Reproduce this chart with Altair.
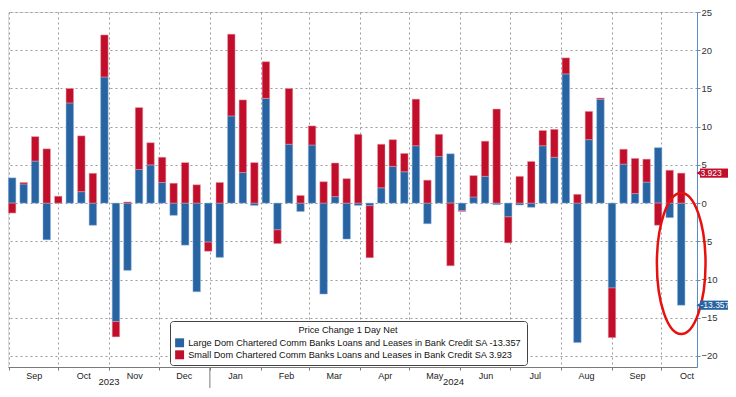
import altair as alt
import pandas as pd

FONT = "Liberation Sans, Arial, sans-serif"

# ---------------- data ----------------
start_date = "2023-09-03"
n_weeks = 59
large = [3.3, 2.5, 5.5, -4.8, 0.0, 13.1, 1.5, -2.9, 16.5, -15.5,
         -8.8, 4.4, 5.0, 2.7, -1.6, -5.5, -11.6, -5.1, -7.1, 11.4,
         4.0, -0.3, 13.7, -3.5, 7.7, -1.1, 7.6, -11.9, 0.85, -4.7,
         -0.3, -0.35, 2.0, 4.8, 4.1, 7.5, -2.7, 6.1, 6.45, -1.0,
         0.8, 3.5, -0.2, -1.8, -0.25, -0.55, 7.5, 6.0, 16.9, -18.25,
         8.3, 13.6, -11.1, 5.1, 1.25, 2.75, 7.25, -1.9, -13.357]
small = [-1.3, 0.2, 3.2, 7.1, 0.9, 1.9, 7.3, 3.9, 5.5, -2.0,
         0.15, 8.1, 2.9, 3.3, 2.6, 5.3, 2.4, -1.2, 2.7, 10.7,
         9.5, 5.3, 4.8, -1.8, 7.3, 1.0, 2.5, 2.8, 4.4, 3.2,
         9.0, -6.8, 5.7, 3.5, 2.4, 6.1, 3.0, 2.9, -8.2, -0.1,
         2.8, 4.6, 12.3, -3.4, 3.5, 5.45, 2.0, 3.65, 2.1, 1.15,
         3.7, 0.15, -6.5, 1.95, 4.6, 3.0, -2.9, 4.3, 3.923]
series_names = [
    "Large Dom Chartered Comm Banks Loans and Leases in Bank Credit SA -13.357",
    "Small Dom Chartered Comm Banks Loans and Leases in Bank Credit SA 3.923",
]
last_labels = ["-13.357", "3.923"]
series_colors = ["#2864a2", "#c10f2b"]
edge_colors = ["#8fb4de", "#eba3ad"]
legend_title = "Price Change 1 Day Net"
y_ticks = [-20, -15, -10, -5, 0, 5, 10, 15, 20, 25]
years = ["2023", "2024"]
year_edges = ["2023-08-31T12:00:00Z", "2024-01-01T00:00:00Z", "2024-10-22T14:00:00Z"]
highlight_value = -7.9  # centre of the red ring annotation

# ---------------- tables ----------------
dates = pd.date_range(start_date, periods=n_weeks, freq="7D").strftime("%Y-%m-%d").tolist()
rows = []
for i, d in enumerate(dates):
    rows.append({"date": d, "series": series_names[0], "value": large[i], "ord": 0})
    rows.append({"date": d, "series": series_names[1], "value": small[i], "ord": 1})
bars_df = pd.DataFrame(rows)

month_starts = pd.date_range("2023-09-01", "2024-10-01", freq="MS")
month_vals = [alt.DateTime(year=m.year, month=m.month, date=1, utc=True) for m in month_starts]

edges = pd.to_datetime(year_edges)
year_df = pd.DataFrame({
    "date": [(edges[i] + (edges[i + 1] - edges[i]) / 2).strftime("%Y-%m-%dT%H:%M:%SZ") for i in range(2)],
    "label": years,
})
sep_df = pd.DataFrame({"date": [year_edges[1]]})

W, H = 689, 355
PAD = {"left": 0, "top": 4, "right": 31, "bottom": 21}

x_scale = alt.Scale(
    type="utc", padding=0, nice=False,
    domain=[alt.DateTime(year=2023, month=8, date=31, hours=12, utc=True),
            alt.DateTime(year=2024, month=10, date=22, hours=14, utc=True)],
)
y_scale = alt.Scale(domain=[-21.44, 25], nice=False, zero=False, padding=0)

GRID_DASH = [2, 3]

bars = alt.Chart(bars_df).mark_bar(size=7.5, strokeWidth=0.7, strokeOpacity=0.7).encode(
    x=alt.X("date:T", scale=x_scale, title=None,
            axis=alt.Axis(values=month_vals, tickCount=len(month_vals) + 2,
                          labelExpr="utcFormat(datum.value, '%b')",
                          labelOffset=25, grid=True, gridDash=GRID_DASH, gridColor="#9a9a9a",
                          domainColor="#7a7a7a", tickColor="#7a7a7a", tickSize=3,
                          labelPadding=1, labelFontSize=9, labelColor="#222",
                          labelOverlap=False, labelBound=False, labelFlush=False, labelFont=FONT)),
    y=alt.Y("value:Q", scale=y_scale, stack="zero", title=None,
            axis=alt.Axis(orient="right", values=y_ticks, tickCount=len(y_ticks) + 2,
                          grid=True, gridDash=GRID_DASH,
                          gridColor="#9a9a9a", domainColor="#5a8cc8", tickColor="#5a8cc8",
                          tickSize=3, labelPadding=1, labelFontSize=9.5, labelColor="#333",
                          labelFont=FONT, labelOverlap=False, labelBound=False,
                          labelFlush=False)),
    color=alt.Color("series:N", scale=alt.Scale(domain=series_names, range=series_colors),
                    legend=alt.Legend(orient="none", legendX=162, legendY=309,
                                      title=legend_title, titleAnchor="middle",
                                      titleFontWeight="normal", titleFontSize=9.2, titleFont=FONT,
                                      titleColor="#111", titlePadding=3,
                                      labelFontSize=9.2, labelFont=FONT, labelColor="#111",
                                      labelLimit=600, symbolType="square", symbolSize=80,
                                      symbolStrokeWidth=0, fillColor="white",
                                      strokeColor="#444", cornerRadius=3, padding=5,
                                      rowPadding=2)),
    stroke=alt.Stroke("series:N", scale=alt.Scale(domain=series_names, range=edge_colors),
                      legend=None),
    order=alt.Order("ord:Q", sort="ascending"),
)

year_text = alt.Chart(year_df).mark_text(fontSize=9.5, font=FONT, color="#222", baseline="middle").encode(
    x=alt.X("date:T", title=None), y=alt.value(H + 15), text="label:N")

year_sep = alt.Chart(sep_df).mark_rule(color="#7a7a7a", strokeWidth=1).encode(
    x=alt.X("date:T", title=None), y=alt.value(H), y2=alt.value(H + PAD["bottom"]))

ring_df = pd.DataFrame({"date": [dates[-1]], "value": [highlight_value]})
ring = alt.Chart(ring_df).mark_point(
    shape="M -0.345,0 A 0.345,1 0 1,1 0.345,0 A 0.345,1 0 1,1 -0.345,0 Z",
    size=19900, filled=False, stroke="#e8100f", strokeWidth=2.5, opacity=1,
).encode(x=alt.X("date:T", title=None), y=alt.Y("value:Q", title=None))

layers = [bars, year_text, year_sep, ring]
for name_i in range(2):
    lab_df = pd.DataFrame({"value": [[large, small][name_i][-1]], "label": [last_labels[name_i]]})
    base = alt.Chart(lab_df).transform_calculate(top="datum.value + 0.6", bot="datum.value - 0.6")
    box = base.mark_rect(color=series_colors[name_i]).encode(
        x=alt.value(W + 3), x2=alt.value(W + PAD["right"]),
        y=alt.Y("top:Q", title=None), y2="bot:Q")
    tip = base.mark_point(shape="triangle-left", filled=True, size=36, opacity=1,
                          color=series_colors[name_i]).encode(
        x=alt.value(W + 2), y=alt.Y("value:Q", title=None))
    txt = base.mark_text(align="left", baseline="middle", color="white", fontSize=8.5,
                         font=FONT).encode(
        x=alt.value(W + 3.5), y=alt.Y("value:Q", title=None), text="label:N")
    layers += [box, tip, txt]

chart = alt.layer(*layers).properties(
    width=W, height=H,
    autosize=alt.AutoSizeParams(type="none"),
    padding=PAD,
).configure_view(stroke=None).configure(font=FONT)

chart.save("out.html", embed_options={"renderer": "svg", "actions": False})
